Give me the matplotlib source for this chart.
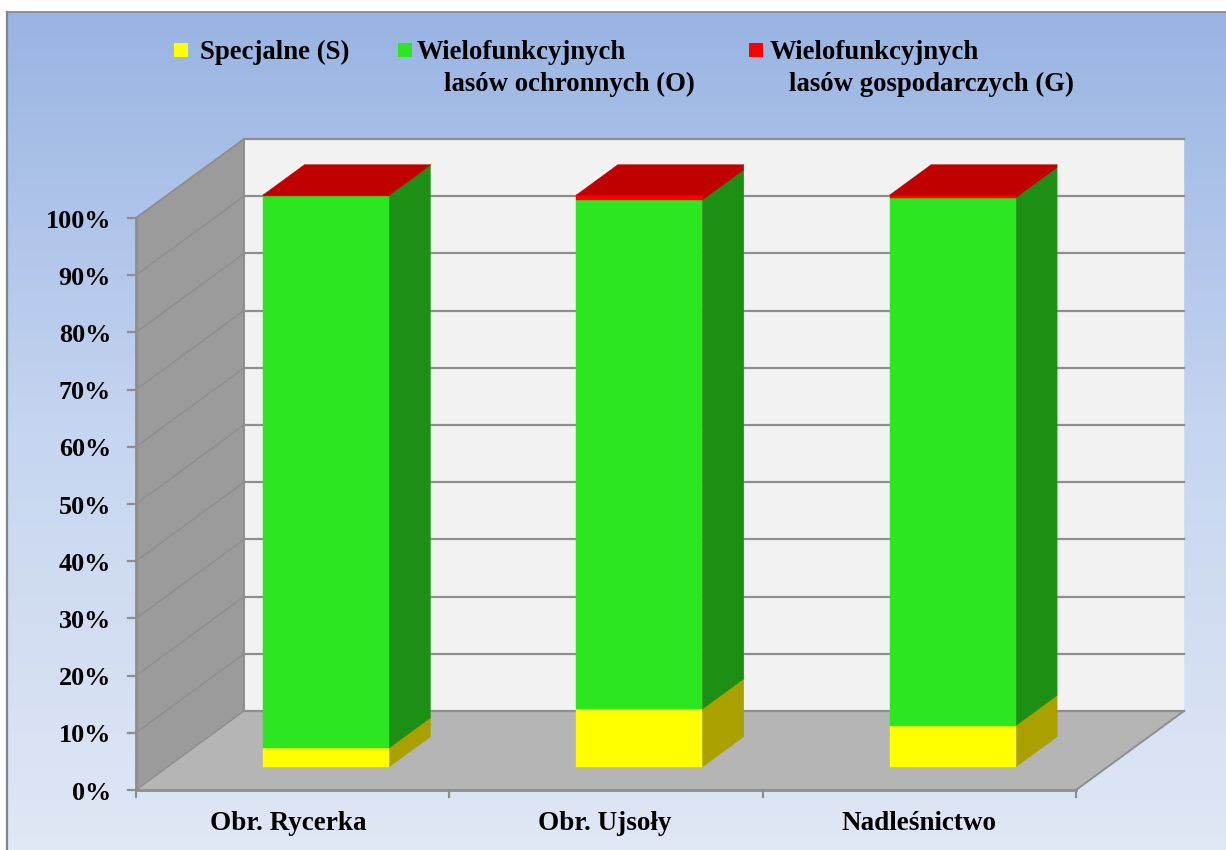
"""Pseudo-3D stacked percent columns, forest function shares per unit."""

import matplotlib

matplotlib.use("Agg")
import matplotlib.pyplot as plt
import numpy as np

categories = ["Obr. Rycerka", "Obr. Ujsoły", "Nadleśnictwo"]
specjalne = [3.3, 10.1, 7.2]
ochronne = [96.6, 89.0, 92.3]
gospodarcze = [0.1, 0.9, 0.5]
y_ticks = [0, 10, 20, 30, 40, 50, 60, 70, 80, 90, 100]
series_colors = ["#ffff00", "#2ce620", "#ff0000"]
side_colors = ["#aaa000", "#1c8f14", "#c00000"]
top_color = "#c00000"

# plot geometry in image pixels
X0, Y0 = 136, 790
PLOT_W = 940
PLOT_H = 572
DX, DY = 108, -79
BAR_OFF = 0.29
BAR_DEPTH = 0.385
BAR_W = 126
GRID = "#8e8e8e"
LABEL_X = [288, 605, 919]


def project(x_frac, value, depth):
    """x_frac across the floor, value in percent, depth 0 front to 1 back."""
    return (
        X0 + x_frac * PLOT_W + depth * DX,
        Y0 - value / 100 * PLOT_H + depth * DY,
    )


def main():
    plt.rcParams["font.family"] = ["Liberation Serif", "DejaVu Serif"]
    plt.rcParams["font.weight"] = "bold"

    fig = plt.figure(figsize=(12.26, 8.5), dpi=100, facecolor="white")
    ax = fig.add_axes([0, 0, 1, 1])
    ax.axis("off")

    # panel background
    gradient = np.linspace(0, 1, 256).reshape(-1, 1)
    cmap = matplotlib.colors.LinearSegmentedColormap.from_list(
        "panel", ["#99b4e3", "#c6d5f0", "#e0e7f5"]
    )
    ax.imshow(gradient, extent=[7, 1226, 850, 12], cmap=cmap, aspect="auto", zorder=0)
    ax.plot([7, 7], [850, 12], color="#858585", lw=1.6, zorder=1)
    ax.plot([7, 1226], [12, 12], color="#858585", lw=1.2, zorder=1)
    ax.set_xlim(0, 1226)
    ax.set_ylim(850, 0)

    def poly(points, color, z=2):
        ax.fill(*zip(*points), color=color, lw=0.3, zorder=z)

    # walls and floor
    poly([project(0, 0, 1), project(1, 0, 1), project(1, 100, 1), project(0, 100, 1)], "#f2f2f2")
    poly([project(0, 0, 0), project(0, 0, 1), project(0, 100, 1), project(0, 100, 0)], "#9b9b9b")
    poly([project(0, 0, 0), project(1, 0, 0), project(1, 0, 1), project(0, 0, 1)], "#b5b5b5")

    # gridlines run along the side wall then the back wall
    for tick in y_ticks:
        if tick > 0:
            ax.plot(*zip(project(0, tick, 0), project(0, tick, 1)), color=GRID, lw=1.0, zorder=3)
            ax.plot(*zip(project(0, tick, 1), project(1, tick, 1)), color=GRID, lw=1.6, zorder=3)
        tick_pts = [project(0, tick, 0), (X0 - 8, project(0, tick, 0)[1])]
        ax.plot(*zip(*tick_pts), color=GRID, lw=1.6, zorder=3)
        ax.text(111, project(0, tick, 0)[1] + 3, f"{tick}%", ha="right", va="center",
                fontsize=18.8, color="black", zorder=6)
    ax.plot(*zip(project(0, 0, 0), project(1, 0, 0)), color=GRID, lw=2, zorder=3)
    ax.plot(*zip(project(1, 0, 0), project(1, 0, 1)), color=GRID, lw=1.4, zorder=3)
    ax.plot(*zip(project(0, 0, 1), project(1, 0, 1)), color=GRID, lw=1.6, zorder=3)
    ax.plot(*zip(project(0, 0, 0), project(0, 0, 1)), color=GRID, lw=1.0, zorder=3)
    ax.plot(*zip(project(0, 100, 0), project(0, 100, 1)), color=GRID, lw=1.2, zorder=3)
    ax.plot(*zip(project(0, 0, 0), project(0, 100, 0)), color=GRID, lw=2, zorder=3)
    ax.plot(*zip(project(0, 0, 1), project(0, 100, 1)), color=GRID, lw=1.4, zorder=3)
    for i in range(len(categories) + 1):
        x_tick = project(i / len(categories), 0, 0)[0]
        ax.plot([x_tick, x_tick], [Y0, Y0 + 7], color=GRID, lw=1.6, zorder=3)

    # columns
    n = len(categories)
    bar_frac = BAR_W / PLOT_W
    for i, name in enumerate(categories):
        left = (i + 0.5) / n - bar_frac / 2 + 0.002
        right = left + bar_frac
        base = 0.0
        d0, d1 = BAR_OFF, BAR_OFF + BAR_DEPTH
        for values, color, side in zip(
            [specjalne, ochronne, gospodarcze], series_colors, side_colors
        ):
            top = base + values[i]
            poly([project(right, base, d0), project(right, base, d1),
                  project(right, top, d1), project(right, top, d0)], side, 4)
            poly([project(left, base, d0), project(right, base, d0),
                  project(right, top, d0), project(left, top, d0)], color, 5)
            base = top
        poly([project(left, base, d0), project(right, base, d0),
              project(right, base, d1), project(left, base, d1)], top_color, 5)
        ax.text(LABEL_X[i], 824, name, ha="center", va="center",
                fontsize=19.5, color="black", zorder=6)

    # legend
    legend_items = [
        (174, 200, "Specjalne (S)", None, None),
        (398, 417, "Wielofunkcyjnych", 444, "lasów ochronnych (O)"),
        (749, 770, "Wielofunkcyjnych", 789, "lasów gospodarczych (G)"),
    ]
    for (sx, tx, line1, tx2, line2), color in zip(legend_items, series_colors):
        ax.add_patch(plt.Rectangle((sx, 43), 14, 14, color=color, lw=0, zorder=6))
        ax.text(tx, 59, line1, fontsize=19.3, va="baseline", color="black", zorder=6)
        if line2:
            ax.text(tx2, 91, line2, fontsize=19.3, va="baseline", color="black", zorder=6)

    fig.savefig("out.png", dpi=100)


if __name__ == "__main__":
    main()
